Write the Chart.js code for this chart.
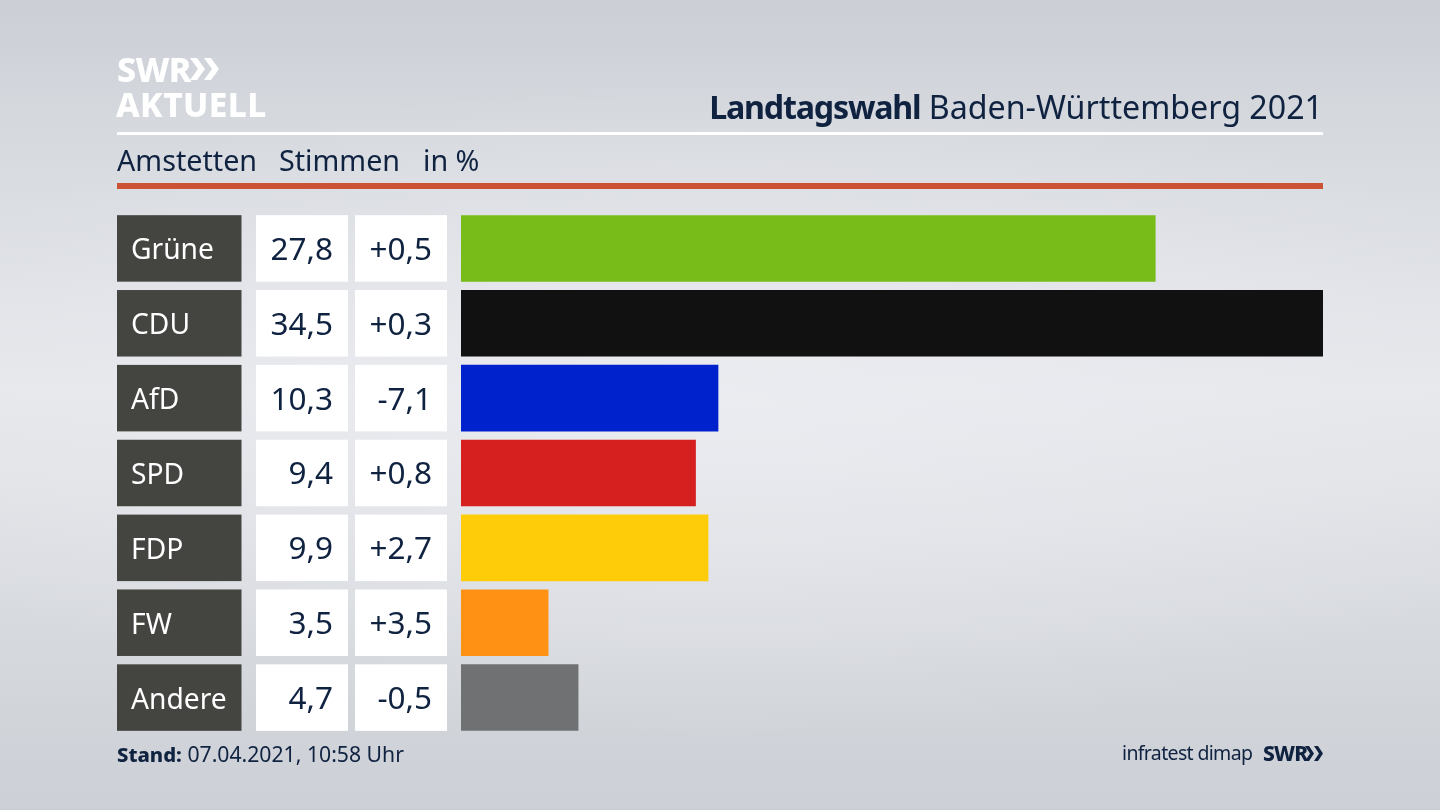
<!DOCTYPE html>
<html lang="de"><head><meta charset="utf-8">
<script src="https://cdn.jsdelivr.net/npm/chart.js@4"></script>
<style>
html,body{margin:0;padding:0;width:1440px;height:810px;overflow:hidden}
body{position:relative;font-family:"Noto Sans",sans-serif;color:#0f2240;
background:radial-gradient(ellipse 900px 330px at 720px 410px,rgba(236,237,242,.7),rgba(236,237,242,0)),linear-gradient(180deg,#cbced5 0,#d6d9de 130px,#e6e8ec 390px,#e2e4e8 470px,#d3d6db 680px,#cccfd5 810px)}
canvas{position:absolute;left:0;top:0}
.t{position:absolute;white-space:nowrap;line-height:1}
.rule{position:absolute;left:117px;width:1206px}
</style></head><body>
<canvas id="c" width="1440" height="810" style="width:1440px;height:810px"></canvas>
<div class="t" style="left:117px;top:46px;font:800 34px 'Noto Sans';color:#fff;letter-spacing:-.7px">SWR</div>
<svg style="position:absolute;left:189px;top:57px" width="31" height="24" viewBox="0 0 31 24"><path d="M1 1h7l8 11-8 11H1l8-11zM15 1h7l8 11-8 11h-7l8-11z" fill="#fff"/></svg>
<div class="t" style="left:116px;top:81px;font:800 33.5px 'Noto Sans';color:#fff;letter-spacing:.4px">AKTUELL</div>
<div class="t" style="right:117px;top:85px;font:400 32.2px 'Noto Sans'"><b style="font-weight:700;letter-spacing:-1.2px">Landtagswahl</b> Baden-Württemberg 2021</div>
<div class="rule" style="top:132px;height:3px;background:#fff"></div>
<div class="t" style="left:117px;top:140px;font:400 28.7px 'Noto Sans'">Amstetten</div>
<div class="t" style="left:279px;top:140px;font:400 28.7px 'Noto Sans'">Stimmen</div>
<div class="t" style="left:423px;top:140px;font:400 28.7px 'Noto Sans'">in %</div>
<div class="rule" style="top:183px;height:6px;background:#cc5236"></div>
<div class="t" style="left:117px;top:739px;font:400 21.2px 'Noto Sans'"><b style="font-weight:800;font-size:20.3px">Stand:</b> 07.04.2021, 10:58 Uhr</div>
<div class="t" style="left:1122px;top:739px;font:400 19.5px 'Noto Sans';letter-spacing:-.65px">infratest dimap</div>
<div class="t" style="left:1263px;top:739px;font:800 21px 'Noto Sans';letter-spacing:-.8px">SWR</div>
<svg style="position:absolute;left:1305px;top:745px" width="18" height="17" viewBox="0 0 18 17"><path d="M0 1h4l5 7.5L4 16H0l5-7.5zM9 1h4l5 7.5-5 7.5H9l5-7.5z" fill="#0f2240"/></svg>
<script>
const parties = ["Grüne","CDU","AfD","SPD","FDP","FW","Andere"];
const shares = [27.8,34.5,10.3,9.4,9.9,3.5,4.7];
const changes = ["+0,5","+0,3","-7,1","+0,8","+2,7","+3,5","-0,5"];
const colors = ["#78bc1a","#111111","#0022cc","#d6201f","#ffcc09","#ff9114","#707173"];
const fmt = v => v.toFixed(1).replace(".", ",");

const rows = {
  id:"rows",
  beforeDraw(chart){
    const {ctx,scales:{y}} = chart;
    const h = 66.5;
    parties.forEach((p,i)=>{
      const top = y.getPixelForValue(i)-h/2;
      ctx.fillStyle="#444441"; ctx.fillRect(117,top,124.5,h);
      ctx.fillStyle="#ffffff"; ctx.fillRect(256,top,92,h); ctx.fillRect(355,top,92,h);
    });
  },
  afterDraw(chart){
    const {ctx,scales:{y}} = chart;
    ctx.save();
    ctx.textBaseline="middle";
    parties.forEach((p,i)=>{
      const c = y.getPixelForValue(i);
      ctx.font="400 28.2px 'Noto Sans'"; ctx.fillStyle="#ffffff"; ctx.textAlign="left";
      ctx.fillText(p,131,c+3);
      ctx.font="400 31.5px 'Noto Sans'"; ctx.fillStyle="#0f2240"; ctx.textAlign="right";
      ctx.fillText(fmt(shares[i]),333,c+2.5);
      ctx.fillText(changes[i],432,c+2.5);
    });
    ctx.restore();
  }
};

new Chart(document.getElementById("c"),{
  type:"bar",
  data:{labels:parties,datasets:[{data:shares,backgroundColor:colors,borderWidth:0,barPercentage:0.889,categoryPercentage:1}]},
  options:{
    indexAxis:"y",responsive:false,animation:false,devicePixelRatio:1,
    layout:{padding:{left:131,right:117,top:211,bottom:75}},
    plugins:{legend:{display:false},tooltip:{enabled:false},title:{display:false}},
    scales:{
      x:{display:false,min:0,max:34.5,grid:{display:false}},
      y:{grid:{display:false},border:{display:false},
        afterFit(s){s.width=330;},
        ticks:{display:false}}
    }
  },
  plugins:[rows]
});
</script>
</body></html>
